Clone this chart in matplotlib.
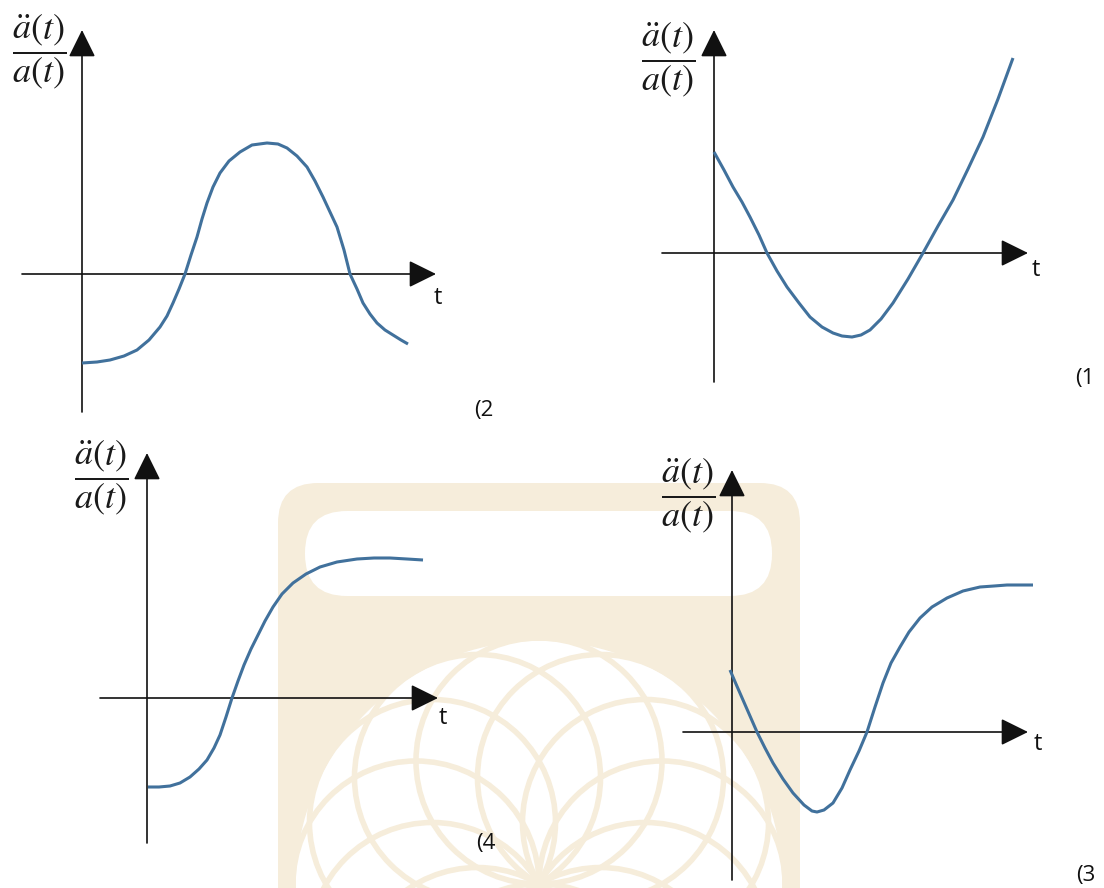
import numpy as np
import matplotlib.pyplot as plt
from matplotlib.patches import FancyBboxPatch, Circle

W, H = 1104, 888
BLUE = "#41719c"
BEIGE = "#f6eddb"

# curves (t to the right, value up, origin at axes crossing)
t1 = [0, 10, 19, 28, 36, 45, 53, 63, 73, 85, 96, 108, 119, 128, 138, 147, 156, 167, 179, 194, 209, 224, 239, 254, 269, 284, 299]
y1 = [101, 83, 66, 51, 36, 18, 0, -18, -34, -50, -64, -74, -80, -83, -84, -82, -77, -66, -50, -26, 0, 27, 53, 84, 116, 154, 195]

t2 = [0, 15, 28, 42, 55, 67, 78, 85, 91, 97, 103, 109, 115, 120, 125, 131, 138, 147, 158, 170, 185, 196, 205, 215, 225, 233, 241, 248, 255, 262, 268, 275, 281, 288, 295, 303, 311, 319, 326]
y2 = [-89, -88, -86, -82, -76, -66, -53, -42, -29, -15, 0, 19, 37, 55, 71, 87, 101, 113, 122, 129, 131, 130, 126, 118, 107, 93, 77, 62, 47, 24, 0, -15, -29, -40, -49, -56, -61, -66, -70]

t3 = [-2, 4, 11, 18, 25, 33, 41, 51, 61, 72, 80, 85, 92, 101, 110, 118, 127, 135, 143, 151, 159, 168, 177, 188, 200, 215, 231, 248, 262, 275, 288, 301]
y3 = [62, 48, 32, 16, 0, -16, -31, -47, -61, -73, -79, -80, -78, -71, -56, -38, -19, 0, 25, 49, 69, 85, 100, 114, 125, 134, 141, 145, 146, 147, 147, 147]

t4 = [1, 12, 23, 33, 43, 52, 60, 67, 73, 79, 85, 91, 97, 104, 111, 118, 126, 135, 146, 159, 173, 190, 210, 227, 243, 260, 276]
y4 = [-89, -89, -88, -85, -79, -71, -62, -50, -37, -19, 0, 17, 33, 49, 63, 77, 91, 104, 115, 124, 131, 136, 139, 140, 140, 139, 138]

LABEL = r"$\dfrac{\ddot{a}(t)}{a(t)}$"

fig = plt.figure(figsize=(W / 100, H / 100), dpi=100)
bg = fig.add_axes([0, 0, 1, 1])
bg.set_xlim(0, W)
bg.set_ylim(H, 0)
bg.axis("off")

# faint watermark behind the bottom panels
bg.add_patch(FancyBboxPatch((278, 483), 522, 460, boxstyle="round,pad=0,rounding_size=40",
                            fc=BEIGE, ec="none", zorder=0))
bg.add_patch(FancyBboxPatch((305, 511), 467, 85, boxstyle="round,pad=0,rounding_size=42",
                            fc="white", ec="none", zorder=0.1))
bg.add_patch(Circle((539, 884), 246, fc="white", ec=BEIGE, lw=4, zorder=0.1))
for ang in np.arange(0, 360, 30):
    cx = 539 + 123 * np.cos(np.radians(ang))
    cy = 884 - 123 * np.sin(np.radians(ang))
    bg.add_patch(Circle((cx, cy), 123, fc="none", ec=BEIGE, lw=4, zorder=0.2))


def panel(ox, oy, t, y, xspan, yspan, lab, tlab, num, numxy):
    ax = fig.add_axes([0, 0, 1, 1])
    ax.set_xlim(-ox, W - ox)
    ax.set_ylim(-(H - oy), oy)
    ax.axis("off")
    ax.patch.set_alpha(0)
    arrow = dict(arrowstyle="-|>,head_length=0.85,head_width=0.42", color="#111111",
                 lw=1.2, mutation_scale=20, shrinkA=0, shrinkB=0)
    ax.annotate("", xy=(xspan[1], 0), xytext=(xspan[0], 0), arrowprops=arrow, zorder=2)
    ax.annotate("", xy=(0, yspan[1]), xytext=(0, yspan[0]), arrowprops=arrow, zorder=2)
    ax.plot(t, y, color=BLUE, lw=2.2, solid_capstyle="butt", solid_joinstyle="round", zorder=3)
    bg.text(lab[0], lab[1], LABEL, fontsize=26, ha="center", va="center",
            math_fontfamily="stix", color="#1a1a1a", zorder=4)
    bg.text(tlab[0], tlab[1], "t", fontsize=17, family="Open Sans", ha="center",
            va="center", color="#111111", zorder=4)
    bg.text(numxy[0], numxy[1], num, fontsize=16, family="Open Sans", ha="center",
            va="center", color="#111111", zorder=4)


panel(714, 253, t1, y1, (-52, 314), (-129, 223), (668, 60), (1036, 270), "(1", (1085, 378))
panel(82, 274, t2, y2, (-60, 354), (-138, 244), (39, 52), (438, 298), "(2", (484, 410))
panel(732, 732, t3, y3, (-49, 296), (-148, 262), (688, 496), (1038, 744), "(3", (1086, 875))
panel(147, 698, t4, y4, (-47, 291), (-145, 245), (101, 478), (443, 718), "(4", (486, 843))

fig.savefig("out.png", dpi=100)
